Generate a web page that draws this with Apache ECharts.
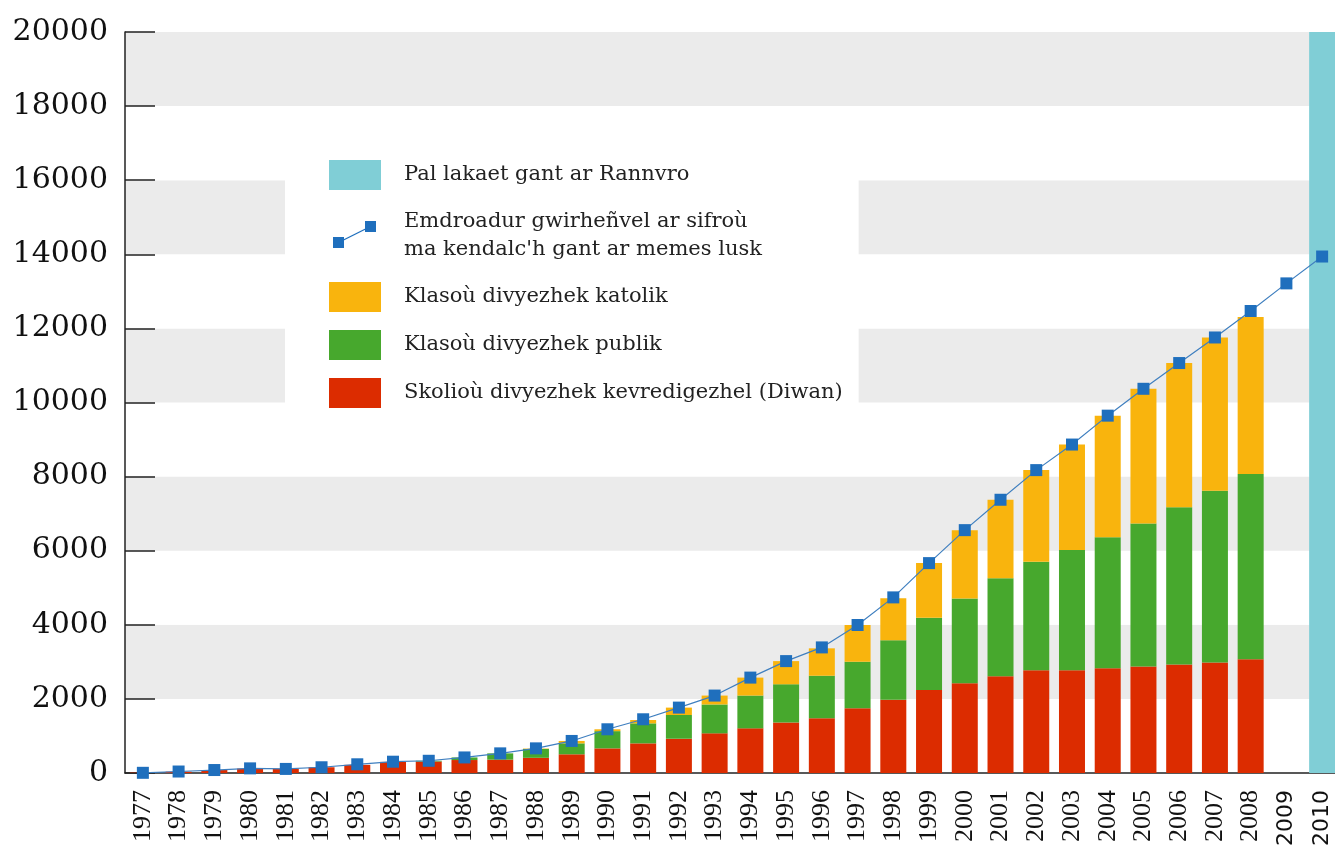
<!DOCTYPE html>
<html>
<head>
<meta charset="utf-8">
<script src="https://cdn.jsdelivr.net/npm/echarts@6/dist/echarts.min.js"></script>
<style>
  html, body { margin: 0; padding: 0; background: #fff; overflow: hidden; }
  #info { width: 1341px; height: 850px; }
</style>
</head>
<body>
<div id="info"></div>
<script>
// years on the axis
var years = ['1977','1978','1979','1980','1981','1982','1983','1984','1985','1986','1987','1988',
  '1989','1990','1991','1992','1993','1994','1995','1996','1997','1998','1999','2000','2001',
  '2002','2003','2004','2005','2006','2007','2008','2009','2010']
// Skolioù Diwan (red)
var diwan = [10,35,80,120,115,155,220,300,310,350,360,410,505,665,800,925,1070,1205,1360,1475,
  1745,1980,2240,2420,2610,2770,2770,2825,2875,2930,2985,3070,'-','-']
// Klasoù publik (green)
var publik = [0,0,0,0,0,0,0,0,20,70,170,240,295,465,540,640,780,885,1035,1150,1260,1600,1950,
  2290,2645,2930,3250,3535,3860,4240,4635,5000,'-','-']
// Klasoù katolik (yellow)
var katolik = [0,0,0,0,0,0,0,0,0,0,0,10,65,50,90,200,240,485,625,740,990,1135,1475,1845,2120,
  2475,2845,3285,3635,3895,4135,4240,'-','-']
// Emdroadur (line)
var emdroadur = [5,40,80,125,110,155,235,305,330,420,530,665,865,1180,1450,1765,2090,2575,3020,
  3390,3995,4740,5665,6555,7375,8175,8865,9645,10370,11065,11755,12470,13215,13940]
// Pal lakaet gant ar Rannvro (cyan)
var pal = ['-','-','-','-','-','-','-','-','-','-','-','-','-','-','-','-','-','-','-','-','-',
  '-','-','-','-','-','-','-','-','-','-','-','-',20000]

var serif = 'DejaVu Serif'

// legend icon for the line: two squares joined by a thin line, in a 52x30 box
var lineIcon = 'path://M0,0L0.01,0L0,0.01Z M52,30L51.99,30L52,29.99Z ' +
  'M4,16H15V27H4Z M36,0H47V11H36Z M9.21,20.92L41.21,4.92L41.79,6.08L9.79,22.08Z'

var chart = echarts.init(document.getElementById('info'))
chart.setOption({
  animation: false,
  backgroundColor: '#fff',
  grid: { left: 125, top: 32, width: 1215, height: 741 },
  legend: {
    orient: 'vertical',
    left: 285,
    top: 142,
    padding: [18, 16, 14, 44],
    backgroundColor: '#fff',
    itemWidth: 52,
    itemHeight: 30,
    itemGap: 18,
    textStyle: { fontFamily: serif, fontSize: 21, color: '#222', lineHeight: 28, padding: [0, 0, 0, 18] },
    data: [
      { name: 'Pal lakaet gant ar Rannvro', icon: 'rect' },
      { name: "Emdroadur gwirheñvel ar sifroù\nma kendalc'h gant ar memes lusk", icon: lineIcon },
      { name: 'Klasoù divyezhek katolik', icon: 'rect' },
      { name: 'Klasoù divyezhek publik', icon: 'rect' },
      { name: 'Skolioù divyezhek kevredigezhel (Diwan)', icon: 'rect' }
    ]
  },
  xAxis: {
    type: 'category',
    data: years,
    axisLine: { lineStyle: { color: '#222', width: 1.5 } },
    axisTick: { inside: true, length: 18, lineStyle: { color: '#222', width: 1.5 } },
    axisLabel: {
      rotate: 90,
      margin: 17,
      interval: 0,
      fontFamily: 'Liberation Serif',
      fontSize: 26,
      color: '#111',
      formatter: function (v) {
        return (v === '2009' || v === '2010') ? '{s|' + v + '}' : v
      },
      rich: { s: { fontFamily: 'DejaVu Sans', fontSize: 22, color: '#111' } }
    }
  },
  yAxis: {
    type: 'value',
    min: 0,
    max: 20000,
    interval: 2000,
    axisLine: { show: true, lineStyle: { color: '#222', width: 1.5 } },
    axisTick: { show: true, inside: true, length: 30, lineStyle: { color: '#222', width: 1.5 } },
    axisLabel: {
      margin: 17, fontFamily: serif, fontSize: 30, color: '#111', padding: [0, 0, 16, 0],
      formatter: function (v) { return String(v) }
    },
    splitLine: { show: false },
    splitArea: { show: true, areaStyle: { color: ['#ffffff', '#ebebeb'] } }
  },
  series: [
    {
      name: 'Skolioù divyezhek kevredigezhel (Diwan)',
      type: 'bar', stack: 'a', barWidth: 26,
      itemStyle: { color: '#dc2c00' },
      data: diwan
    },
    {
      name: 'Klasoù divyezhek publik',
      type: 'bar', stack: 'a', barWidth: 26,
      itemStyle: { color: '#47a82d' },
      data: publik
    },
    {
      name: 'Klasoù divyezhek katolik',
      type: 'bar', stack: 'a', barWidth: 26,
      itemStyle: { color: '#f9b40d' },
      data: katolik
    },
    {
      name: 'Pal lakaet gant ar Rannvro',
      type: 'bar', stack: 'a', barWidth: 26,
      itemStyle: { color: '#80ced6' },
      data: pal
    },
    {
      name: "Emdroadur gwirheñvel ar sifroù\nma kendalc'h gant ar memes lusk",
      type: 'line',
      z: 5,
      symbol: 'rect',
      symbolSize: 12,
      showAllSymbol: true,
      itemStyle: { color: '#1f6fbd' },
      lineStyle: { color: '#3f7fbf', width: 1.2 },
      data: emdroadur
    }
  ]
})
</script>
</body>
</html>
